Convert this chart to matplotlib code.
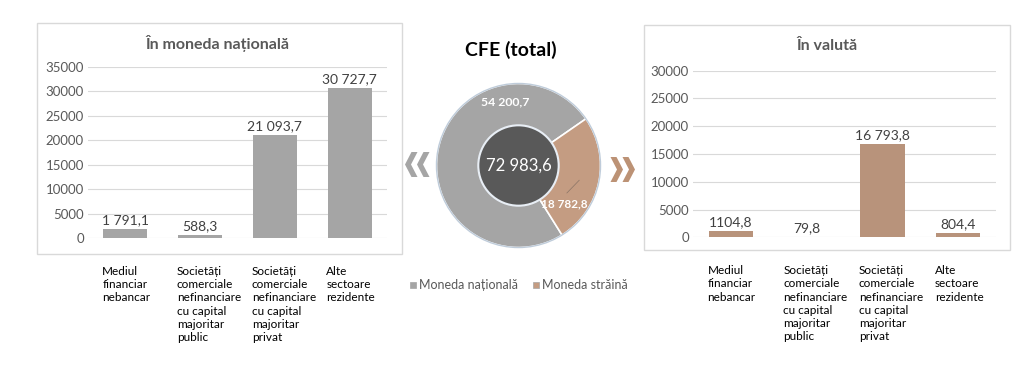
import matplotlib
matplotlib.use('Agg')
import matplotlib.pyplot as plt
from matplotlib.patches import Rectangle, Circle, Polygon

plt.rcParams['font.family'] = ['Lato', 'DejaVu Sans']

# data
categories = ['Mediul\nfinanciar\nnebancar',
              'Societăți\ncomerciale\nnefinanciare\ncu capital\nmajoritar\npublic',
              'Societăți\ncomerciale\nnefinanciare\ncu capital\nmajoritar\nprivat',
              'Alte\nsectoare\nrezidente']
national = [1791.1, 588.3, 21093.7, 30727.7]
national_labels = ['1 791,1', '588,3', '21 093,7', '30 727,7']
foreign = [1104.8, 79.8, 16793.8, 804.4]
foreign_labels = ['1104,8', '79,8', '16 793,8', '804,4']
total_parts = [54200.7, 18782.8]
total_part_labels = ['54 200,7', '18 782,8']
total_label = '72 983,6'
legend_names = ['Moneda națională', 'Moneda străină']

GRAY = '#A5A5A5'
BROWN = '#B8937B'
BROWN_PIE = '#C49C82'
W, H = 1030, 365

fig = plt.figure(figsize=(W / 100, H / 100), dpi=100)


def px(x, y):
    return x / W, 1 - y / H


def bar_panel(rect, values, labels, color, ymax, title, title_xy, frame):
    fx0, fy0, fx1, fy1 = frame
    fig.patches.append(Rectangle((fx0 / W, 1 - fy1 / H), (fx1 - fx0) / W, (fy1 - fy0) / H,
                                 transform=fig.transFigure, fill=False,
                                 edgecolor='#D9D9D9', lw=1))
    ax = fig.add_axes(rect)
    x = range(len(values))
    bars = ax.bar(x, values, width=0.59, color=color)
    for b, lab in zip(bars, labels):
        ax.annotate(lab, (b.get_x() + b.get_width() / 2, b.get_height()),
                    xytext=(0, 2), textcoords='offset points', ha='center', va='bottom',
                    fontsize=10, color='#404040')
    ax.set_xlim(-0.5, len(values) - 0.5)
    ax.set_ylim(0, ymax)
    ax.set_yticks(range(0, ymax + 1, 5000))
    ax.set_xticks([])
    ax.tick_params(axis='y', length=0, labelsize=9.5, labelcolor='#595959', pad=3)
    ax.grid(axis='y', color='#D9D9D9', lw=0.8)
    ax.set_axisbelow(True)
    for s in ax.spines.values():
        s.set_visible(False)
    for i, cat in enumerate(categories):
        ax.annotate(cat, (i - 0.31, 0), xycoords=('data', 'axes fraction'),
                    xytext=(0, -20), textcoords='offset points', ha='left', va='top',
                    fontsize=8.5, linespacing=1.25, color='black', annotation_clip=False)
    fig.text(*px(*title_xy), title, ha='center', va='center', fontsize=11.5,
             fontweight='bold', color='#595959')
    return ax


bar_panel([88 / W, (H - 238) / H, 299 / W, 171.3 / H], national, national_labels, GRAY,
          35000, 'În moneda națională', (217, 43), (37, 23, 402, 254))
bar_panel([693 / W, (H - 237.3) / H, 303 / W, 166.6 / H], foreign, foreign_labels, BROWN,
          30000, 'În valută', (827, 46), (644, 25, 1010, 250))

# donut
axp = fig.add_axes([398.5 / W, (H - 165.5 - 120) / H, 240 / W, 240 / H])
axp.pie(total_parts, colors=[GRAY, BROWN_PIE], startangle=34.7, counterclock=True,
        radius=1, wedgeprops=dict(edgecolor='white', linewidth=1.2))
axp.add_patch(Circle((0, 0), 1.0, fill=False, edgecolor='#BFCCDA', lw=1))
axp.add_patch(Circle((0, 0), 0.49, facecolor='#595959', edgecolor='#E8EEF5', lw=1.5, zorder=5))
axp.set_xlim(-1.463, 1.463)
axp.set_ylim(-1.463, 1.463)
axp.set_aspect('equal')
axp.axis('off')
axp.text(-0.165, 0.78, total_part_labels[0], ha='center', va='center', fontsize=8.8,
         fontweight='bold', color='white', zorder=6)
axp.plot([0.59, 0.74], [-0.335, -0.18], color='#8a7466', lw=0.5, zorder=6)
axp.text(0.56, -0.47, total_part_labels[1], ha='center', va='center', fontsize=8.5,
         fontweight='bold', color='white', zorder=7)
axp.text(0, 0, total_label, ha='center', va='center', fontsize=12, color='white', zorder=6)

fig.text(*px(511, 50), 'CFE (total)', ha='center', va='center', fontsize=14,
         fontweight='bold', color='black')


# chevrons (decorative arrows)
def chevron(tip_x, cy, direction, color):
    w, t, h = 6.5, 6, 12.5
    for k in range(2):
        tx = tip_x + direction * 12 * k
        pts = [(tx, cy), (tx + direction * w, cy - h), (tx + direction * (w + t), cy - h),
               (tx + direction * t, cy), (tx + direction * (w + t), cy + h),
               (tx + direction * w, cy + h)]
        fig.patches.append(Polygon([px(*p) for p in pts], closed=True,
                                   transform=fig.transFigure, facecolor=color,
                                   edgecolor='none'))


chevron(405, 164.5, 1, GRAY)
chevron(635, 169.5, -1, '#BC9275')

# legend
for (sx, tx), name, col in zip([(410, 419), (533, 542)], legend_names, [GRAY, BROWN_PIE]):
    fig.patches.append(Rectangle(px(sx, 288), 6 / W, 6 / H, transform=fig.transFigure,
                                 facecolor=col, edgecolor='#A5A5A5', lw=0.5))
    fig.text(*px(tx, 285), name, ha='left', va='center', fontsize=9, color='#595959')

fig.savefig('out.png', dpi=100, facecolor='white')
